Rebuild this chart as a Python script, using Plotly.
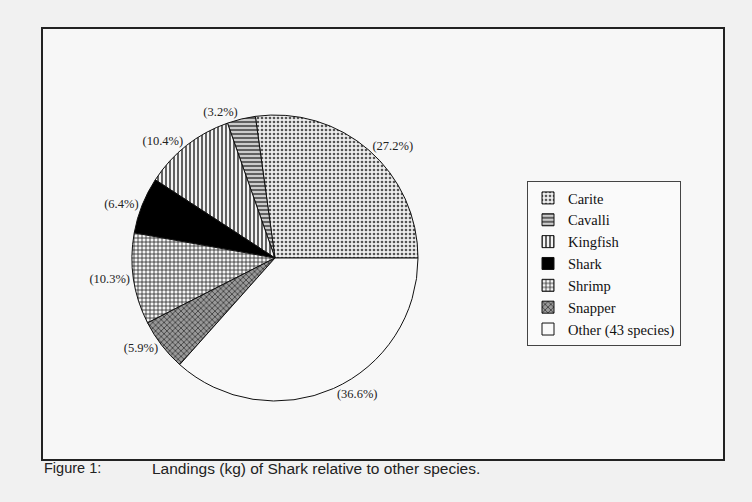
import plotly.graph_objects as go

species = ["Carite", "Cavalli", "Kingfish", "Shark", "Shrimp", "Snapper", "Other (43 species)"]
share = [27.2, 3.2, 10.4, 6.4, 10.3, 5.9, 36.6]
pattern_shapes = [".", "-", "|", "", "+", "x", ""]
fg = ["#555555", "#333333", "#222222", "#000000", "#222222", "#333333", "#ffffff"]
bg = ["#eeeeee", "#cccccc", "#f4f4f4", "#000000", "#f4f4f4", "#999999", "#f9f9f9"]

W, H = 752, 502
cx, cy, r = 275, 258, 143

fig = go.Figure()
fig.add_trace(go.Pie(
    labels=species, values=share, sort=False, direction="counterclockwise",
    rotation=-7.9,
    texttemplate="(%{value:.1f}%)", textposition="outside",
    textfont=dict(family="Liberation Serif", size=12.5, color="#222"),
    marker=dict(colors=bg, line=dict(color="#111", width=1),
                pattern=dict(shape=pattern_shapes, fgcolor=fg, bgcolor=bg, size=4, solidity=0.35)),
    domain=dict(x=[(cx - r) / W, (cx + r) / W], y=[1 - (cy + r) / H, 1 - (cy - r) / H]),
    hoverinfo="label+percent",
))

fig.add_shape(type="rect", xref="paper", yref="paper",
              x0=42 / W, x1=724 / W, y0=1 - 460 / H, y1=1 - 28 / H,
              line=dict(color="#222", width=2), fillcolor="#f7f7f7", layer="below")

fig.add_annotation(text="Figure 1:", x=42 / W, y=1 - 468 / H, xref="paper", yref="paper",
                   xanchor="left", yanchor="middle", showarrow=False,
                   font=dict(family="Liberation Sans", size=14.5, color="#222"))
fig.add_annotation(text="Landings (kg) of Shark relative to other species.", x=150 / W, y=1 - 468 / H,
                   xref="paper", yref="paper", xanchor="left", yanchor="middle", showarrow=False,
                   font=dict(family="Liberation Sans", size=15.5, color="#222"))

fig.update_layout(
    width=W, height=H, margin=dict(l=0, r=0, t=0, b=0),
    paper_bgcolor="#f1f1f1", plot_bgcolor="#f1f1f1",
    showlegend=True,
    legend=dict(x=527 / W, y=1 - 181 / H, xanchor="left", yanchor="top",
                bgcolor="#fafafa", bordercolor="#444", borderwidth=1,
                font=dict(family="Liberation Serif", size=14.5, color="#111"),
                tracegroupgap=2, itemwidth=30),
)

fig.write_html("out.html", config={"displayModeBar": False},
               post_script="document.body.style.margin='0';document.body.style.background='#f1f1f1';")
